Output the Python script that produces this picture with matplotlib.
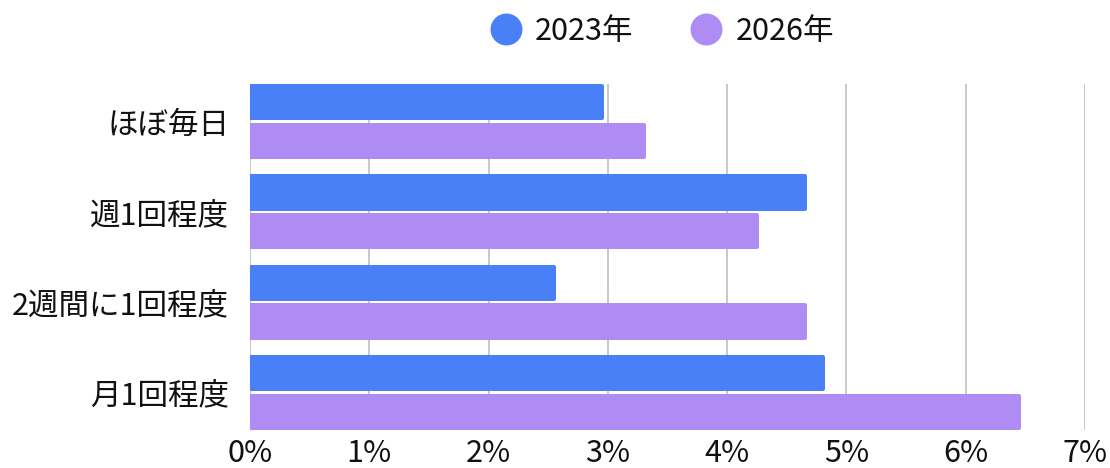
import matplotlib
matplotlib.use("Agg")
import matplotlib.pyplot as plt
import numpy as np
from matplotlib.lines import Line2D
from matplotlib.ticker import FuncFormatter

plt.rcParams['font.family'] = ['Noto Sans CJK JP', 'DejaVu Sans']

categories = ["ほぼ毎日", "週1回程度", "2週間に1回程度", "月1回程度"]
series_names = ["2023年", "2026年"]
values_2023 = [2.95, 4.65, 2.55, 4.80]
values_2026 = [3.30, 4.25, 4.65, 6.45]
x_ticks = [0, 1, 2, 3, 4, 5, 6, 7]

colors = ["#4a80f7", "#ae8cf4"]
grid_color = "#c8c8c8"
text_color = "#111111"

W, H = 1110, 468
fig = plt.figure(figsize=(W / 100, H / 100), dpi=100)
ax = fig.add_axes([250 / W, 1 - 430 / H, (1085 - 250) / W, (430 - 84) / H])

y = np.arange(len(categories))
bar_h = 0.40
offset = 0.215
edge_px = 4
edge_pt = edge_px * 72 / 100
pitch_px = (430 - 84) / 3.833
shrink = edge_px / pitch_px

# rounded bar ends come from a round-joined stroke in the fill colour
for vals, off, c in [(values_2023, -offset, colors[0]), (values_2026, offset, colors[1])]:
    ax.barh(y + off, vals, height=bar_h - shrink, color=c, edgecolor=c,
            linewidth=edge_pt, joinstyle="round", zorder=3)

ax.set_ylim(len(categories) - 1 + 0.4167, -0.4167)
ax.set_xlim(0, 7)
ax.set_xticks(x_ticks)
ax.xaxis.set_major_formatter(FuncFormatter(lambda v, p: f"{int(v)}%"))
ax.set_yticks(y)
ax.set_yticklabels(categories)

ax.grid(axis="x", color=grid_color, linewidth=1.4, zorder=0)
ax.set_axisbelow(True)
for s in ax.spines.values():
    s.set_visible(False)
ax.tick_params(axis="both", length=0, labelsize=22, colors=text_color)
ax.tick_params(axis="x", pad=6)
ax.tick_params(axis="y", pad=15)

handles = [Line2D([], [], marker="o", linestyle="none", markersize=22,
                  markerfacecolor=c, markeredgecolor=c) for c in colors]
fig.legend(handles, series_names, loc="center", bbox_to_anchor=(662 / W, 1 - 31 / H),
           ncol=2, frameon=False, fontsize=22, handletextpad=0.45,
           columnspacing=1.9, handlelength=1.0, labelcolor=text_color)

fig.savefig("out.png", dpi=100, facecolor="white")
